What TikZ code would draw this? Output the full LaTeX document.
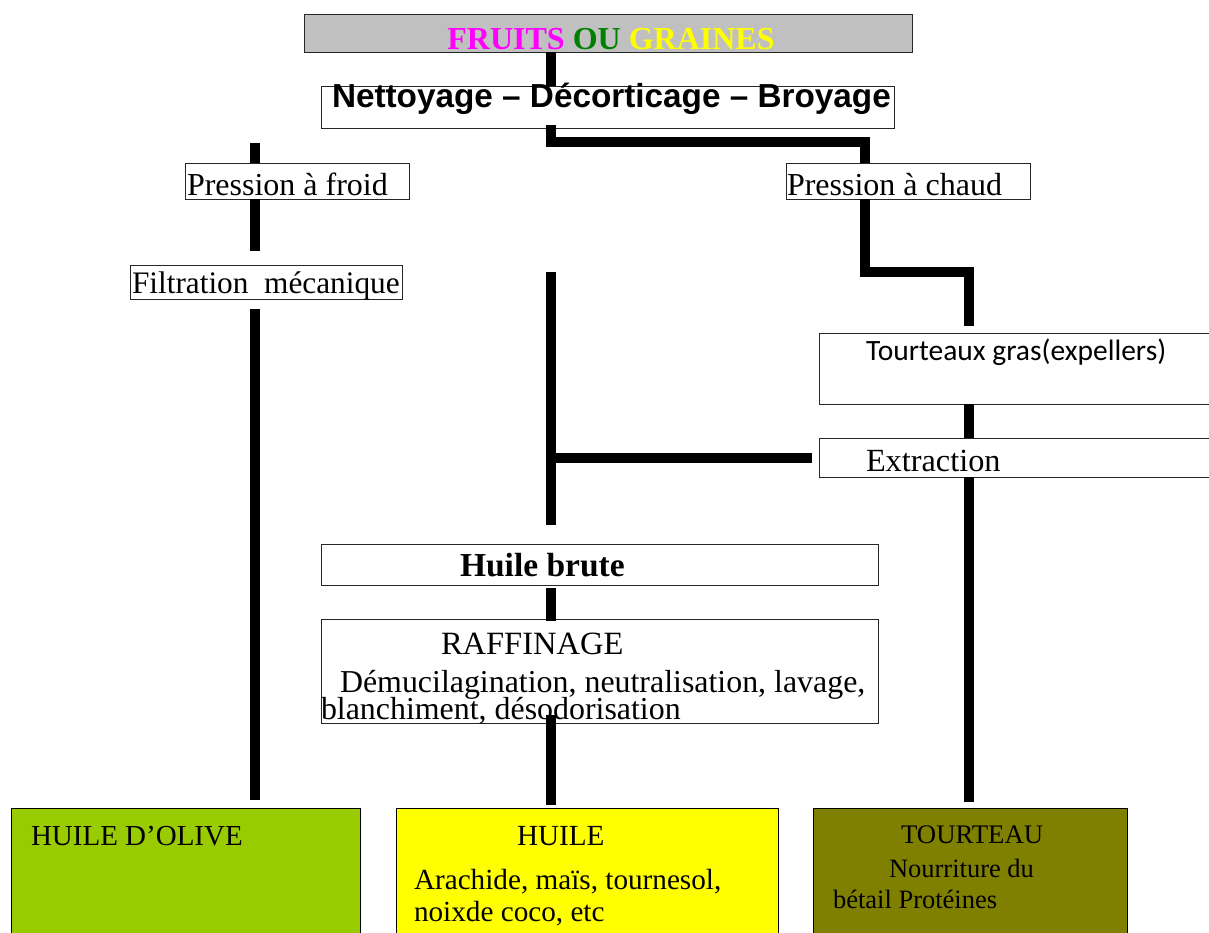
\documentclass[tikz,border=0pt]{standalone}
\usepackage{fontspec}
\setmainfont{Liberation Serif}
\newfontfamily\arialf{Liberation Sans}
\newfontfamily\calibrif{Carlito}
\definecolor{topgray}{HTML}{C0C0C0}
\definecolor{fmag}{HTML}{FF00FF}
\definecolor{fgreen}{HTML}{008000}
\definecolor{fyellow}{HTML}{FFFF00}
\definecolor{olivegreen}{HTML}{99CC00}
\definecolor{oilyellow}{HTML}{FFFF00}
\definecolor{cakeolive}{HTML}{808000}
\newcommand{\myfs}[1]{\fontsize{#1}{#1}\selectfont}
\begin{document}
\begin{tikzpicture}[x=1pt,y=-1pt,
  box/.style={draw=black!85, line width=0.8pt, fill=white, inner sep=0pt, outer sep=0pt},
  txt/.style={anchor=base west, inner sep=0pt, outer sep=0pt},
  conn/.style={line width=10pt, line cap=butt, line join=miter, draw=black}]
\useasboundingbox (0,0) rectangle (1209,932);
\clip (0,0) rectangle (1209,932);
\fill[white] (0,0) rectangle (1209,932);

% boxes
\node[box, fill=topgray, minimum width=608pt, minimum height=38pt] (fruits) at (608,33) {};
\node[box, minimum width=573pt, minimum height=42pt] (nett) at (607.5,107) {};
\node[box, minimum width=224pt, minimum height=36pt] (froid) at (297,181) {};
\node[box, minimum width=272pt, minimum height=34pt] (filt) at (266,282) {};
\node[box, minimum width=244pt, minimum height=36pt] (chaud) at (908,181) {};
\node[box, minimum width=396pt, minimum height=71pt] (tg) at (1017,368.5) {};
\node[box, minimum width=396pt, minimum height=39pt] (extr) at (1017,457.5) {};
\node[box, minimum width=557pt, minimum height=41pt] (brute) at (599.5,564.5) {};
\node[box, minimum width=557pt, minimum height=104pt] (raff) at (599.5,671) {};
\node[box, draw=black, fill=olivegreen, minimum width=349pt, minimum height=132pt] (olive) at (185.5,874) {};
\node[box, draw=black, fill=oilyellow, minimum width=382pt, minimum height=132pt] (huile) at (587,874) {};
\node[box, draw=black, fill=cakeolive, minimum width=314pt, minimum height=132pt] (tourteau) at (970,874) {};

% texts
\node[anchor=base, inner sep=0pt] (t-fruits) at (611,49) {\myfs{32}\bfseries\textcolor{fmag}{FRUITS} \textcolor{fgreen}{OU} \textcolor{fyellow}{GRAINES}};
\node[txt] (t-nett) at (332,107) {\arialf\bfseries\myfs{33.3}Nettoyage – Décorticage – Broyage};
\node[txt] (t-froid) at (187,195) {\myfs{32}Pression à froid};
\node[txt] (t-filt) at (132,293) {\myfs{31.3}Filtration\ \ mécanique};
\node[txt] (t-chaud) at (787,195) {\myfs{32}Pression à chaud};
\node[txt] (t-tg) at (866,360) {\calibrif\myfs{29.5}Tourteaux gras(expellers)};
\node[txt] (t-extr) at (866,471) {\myfs{32.3}Extraction};
\node[txt] (t-brute) at (460,576) {\myfs{33.5}\bfseries Huile brute};
\node[txt] (t-raff) at (441,654) {\myfs{32.5}RAFFINAGE};
\node[txt, align=left, font=\myfs{31.9}] (t-raff2) at (321,719) {\hspace*{19pt}Démucilagination, neutralisation, lavage,\\[-5pt]blanchiment, désodorisation};
\node[txt] (t-olive) at (31,845) {\myfs{29}HUILE D’OLIVE};
\node[txt] (t-huile) at (517,845) {\myfs{29.2}HUILE};
\node[txt] (t-huile2) at (414,889) {\myfs{29.2}Arachide, maïs, tournesol,};
\node[txt] (t-huile3) at (414,921) {\myfs{29.2}noixde coco, etc};
\node[txt] (t-tourteau) at (901,843) {\myfs{26.8}TOURTEAU};
\node[txt] (t-tourteau2) at (889,877) {\myfs{26.5}Nourriture du};
\node[txt] (t-tourteau3) at (833,908) {\myfs{26.5}bétail Protéines};

% helper coordinates
\coordinate (xm) at (551,0);
\coordinate (xl) at (255,0);
\coordinate (xc) at (865,0);
\coordinate (xr) at (969,0);
\coordinate (jA) at (865,142);
\coordinate (jC) at (969,272);
\coordinate (fbar) at (255,143);
\coordinate (mtop) at (551,272);
\coordinate (jB) at (546,457.5);

% connectors
\draw[conn] (fruits.south -| xm) -- (nett.north -| xm);
\draw[conn, shorten <=-3pt] (nett.south -| xm) |- (jA) -- (chaud.north -| xc);
\draw[conn] (fbar) -- (froid.north -| fbar);
\draw[conn, shorten >=14pt] (froid.south -| xl) -- (filt.north -| xl);
\draw[conn, shorten <=10pt, shorten >=8pt] (filt.south -| xl) -- (olive.north -| xl);
\draw[conn, shorten >=7pt] (chaud.south -| xc) |- (jC) -- (tg.north -| xr);
\draw[conn] (tg.south -| xr) -- (extr.north -| xr);
\draw[conn, shorten >=6pt] (extr.south -| xr) -- (tourteau.north -| xr);
\draw[conn, shorten <=7pt] (extr.west) -- (jB);
\draw[conn, shorten >=19pt] (mtop) -- (brute.north -| mtop);
\draw[conn, shorten <=3pt, shorten >=-2pt] (brute.south -| xm) -- (raff.north -| xm);
\draw[conn, shorten <=-8pt, shorten >=3pt] (raff.south -| xm) -- (huile.north -| xm);
\end{tikzpicture}
\end{document}
